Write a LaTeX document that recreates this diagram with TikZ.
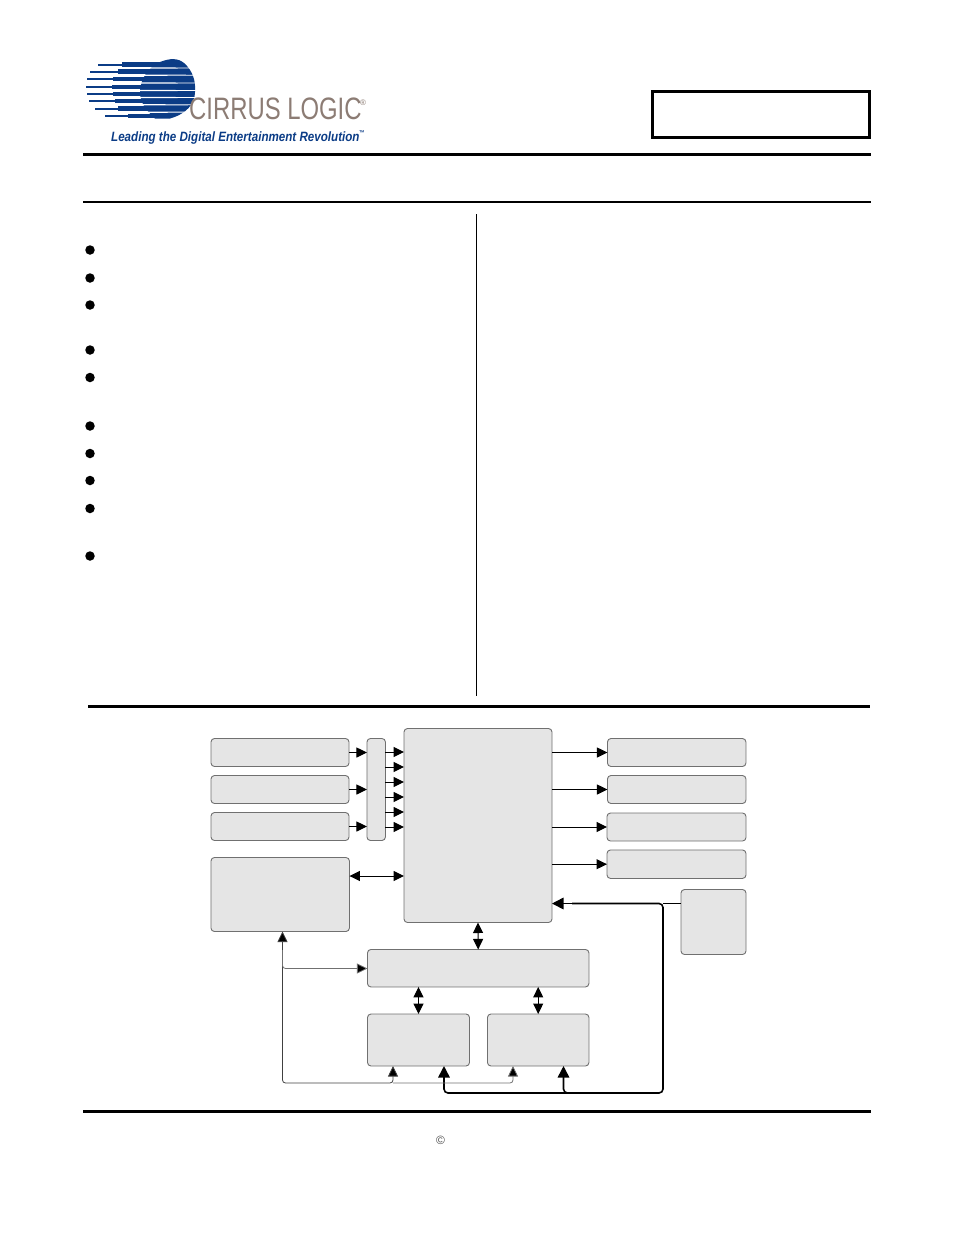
\documentclass[tikz,border=0pt]{standalone}
\usepackage{graphicx}
\usepackage{fontspec}
\setmainfont{Liberation Sans}
\usetikzlibrary{arrows.meta}
\definecolor{boxfill}{HTML}{E5E5E5}
\definecolor{boxline}{HTML}{707070}
\definecolor{logoblue}{HTML}{0B3C86}
\definecolor{logobrown}{HTML}{8C7C74}
\tikzset{
  box/.style={draw=boxline,fill=boxfill,rounded corners=3.5pt,line width=.9pt,inner sep=0pt,outer sep=0pt},
  rulethick/.style={line width=3pt},
  arr/.style={line width=1pt,-{Triangle[length=10.5pt,width=10pt]}},
  dbl/.style={line width=1pt,{Triangle[length=10.5pt,width=10pt]}-{Triangle[length=10.5pt,width=10pt]}},
  thin arr/.style={line width=.8pt,draw=boxline,rounded corners=3pt,-{Triangle[length=10.5pt,width=10pt,fill=black]}},
  thin dbl/.style={line width=.8pt,draw=black!75,rounded corners=3pt,{Triangle[length=10.5pt,width=10pt,fill=black]}-{Triangle[length=10.5pt,width=10pt,fill=black]}},
  bus/.style={line width=1.6pt,rounded corners=4pt,-{Triangle[length=11.5pt,width=11.5pt]}},
  bullet/.style={circle,fill=black,minimum size=9.5pt,inner sep=0pt},
}
\begin{document}
\begin{tikzpicture}[x=1pt,y=-1pt]
\useasboundingbox (0,0) rectangle (954,1235);
% logo
\begin{scope}[logoblue]
  \fill (140,92) .. controls (140,78) and (150,66) .. (160,62) .. controls (170,58) and (178,58) .. (184,63) .. controls (192,70) and (196,80) .. (195,92) .. controls (195,104) and (186,114) .. (170,118.5) -- (155,118.5) .. controls (148,112) and (140,104) .. (140,92) -- cycle;
  \foreach \yy/\xa/\xb/\xc in {64.5/98/122/160, 71.5/90/118/152, 79/87/113/145, 87/86/112/142, 94/87/113/142, 101/89/115/145, 108.5/95/118/152, 116/105/128/160}{
    \fill (\xa,\yy-1) rectangle (\xb,\yy+1);
    \fill (\xb,\yy-2.4) rectangle (\xc,\yy+2.4);
  }
  \foreach \yy in {68,75.2,83,90.5,97.5,104.8,112.2}{
    \fill[white] (136,\yy-.7) -- (197,\yy-.4) -- (197,\yy+.4) -- (136,\yy+.7) -- cycle;
  }
\end{scope}
\node[anchor=base west,inner sep=0pt,text=logobrown] (brand) at (189,119)
  {\scalebox{.77}[1]{\fontsize{31}{31}\selectfont CIRRUS LOGIC}};
\node[anchor=base west,inner sep=0pt,text=logobrown] (reg) at (360,105)
  {\fontsize{8}{8}\selectfont ®};
\node[anchor=base west,inner sep=0pt,text=logoblue] (tag) at (111,141)
  {\scalebox{.86}[1]{\fontsize{13.5}{13.5}\selectfont\bfseries\itshape Leading the Digital Entertainment Revolution}};
\node[anchor=base west,inner sep=0pt,text=logoblue] (tm) at (359,135)
  {\scalebox{.8}[1]{\fontsize{7}{7}\selectfont\bfseries ™}};
% header and rules
\node[draw=black,line width=3pt,minimum width=217pt,minimum height=46pt,inner sep=0pt] (title) at (761,114.5) {};
\coordinate (ra) at (83,154.5); \coordinate (rb) at (871,154.5);
\draw[rulethick] (ra) -- (rb);
\coordinate (rc) at (83,202); \coordinate (rd) at (871,202);
\draw[line width=2pt] (rc) -- (rd);
\coordinate (re) at (476.5,214); \coordinate (rf) at (476.5,695.5);
\draw[line width=1pt] (re) -- (rf);
\coordinate (rg) at (88,706.5); \coordinate (rh) at (870,706.5);
\draw[rulethick] (rg) -- (rh);
\coordinate (ri) at (83,1111); \coordinate (rj) at (871,1111);
\draw[rulethick] (ri) -- (rj);
\node[text=black!70,inner sep=0pt] (copy) at (440.5,1140) {\fontsize{12}{12}\selectfont ©};
% bullets
\foreach \n/\yy in {1/250,2/278,3/305,4/350,5/377.5,6/426,7/453.5,8/480.5,9/508.5,10/556}{
  \node[bullet] (b\n) at (90,\yy) {};
}
% boxes
\node[box,minimum width=138pt,minimum height=28pt] (in1) at (280,752.5) {};
\node[box,minimum width=138pt,minimum height=28pt] (in2) at (280,789.5) {};
\node[box,minimum width=138pt,minimum height=28pt] (in3) at (280,826.5) {};
\node[box,minimum width=18.5pt,minimum height=102pt] (mux) at (376.2,789.5) {};
\node[box,minimum width=148pt,minimum height=194pt] (dsp) at (478,825.5) {};
\node[box,minimum width=138.5pt,minimum height=74pt] (mem) at (280.2,894.5) {};
\node[box,minimum width=221.5pt,minimum height=37.5pt] (ctrl) at (478.2,968.2) {};
\node[box,minimum width=102pt,minimum height=52pt] (left) at (418.5,1040) {};
\node[box,minimum width=101.5pt,minimum height=52pt] (right) at (538.2,1040) {};
\node[box,minimum width=138.5pt,minimum height=28pt] (o1) at (676.7,752.5) {};
\node[box,minimum width=138.5pt,minimum height=28pt] (o2) at (676.7,789.5) {};
\node[box,minimum width=139pt,minimum height=28pt] (o3) at (676.5,827) {};
\node[box,minimum width=139pt,minimum height=28.5pt] (o4) at (676.5,864.2) {};
\node[box,minimum width=65pt,minimum height=65pt] (clk) at (713.5,922) {};
% input arrows
\foreach \a in {in1,in2,in3}{
  \draw[arr] (\a.east) -- (mux.west |- \a.east);
}
\foreach \n/\yy in {1/752,2/767,3/782,4/797,5/812,6/827}{
  \coordinate (m\n) at (404,\yy);
  \draw[arr] (mux.east |- m\n) -- (dsp.west |- m\n);
}
\coordinate (memy) at (404,876);
\draw[dbl] (mem.east |- memy) -- (dsp.west |- memy);
% output arrows
\foreach \a in {o1,o2,o3,o4}{
  \draw[arr] (dsp.east |- \a.west) -- (\a.west);
}
% vertical double arrows
\draw[dbl] (dsp.south) -- (ctrl.north);
\draw[dbl] (ctrl.south -| left.north) -- (left.north);
\draw[dbl] (ctrl.south -| right.north) -- (right.north);
% clock lines
\coordinate (clky) at (681,903.5);
\coordinate (busr) at (663,903.5);
\coordinate (busb) at (663,1093);
\coordinate (lx) at (444,1066);
\coordinate (rx) at (563.5,1066);
\coordinate (busj) at (580,1093);
\draw[line width=1pt] (clk.west |- clky) -- (busr);
\draw[bus] (busj) -- (rx |- busb) -- (rx);
\draw[bus] (dsp.east |- clky) ++(20,0) -- (dsp.east |- clky);
\draw[bus] (dsp.east |- clky) ++(20,0) -- (busr) -- (busb) -- (lx |- busb) -- (lx);
% thin control lines
\coordinate (tl) at (282.5,1083);
\coordinate (ta) at (393,1066);
\coordinate (tb) at (513,1066);
\coordinate (tm) at (282.5,968.5);
\coordinate (tj) at (282.5,950);
\draw[thin arr] (ta |- tl) -- (tb |- tl) -- (tb);
\draw[thin dbl] (tl |- mem.south) -- (tl) -- (ta |- tl) -- (ta);
\draw[thin arr] (tj) -- (tm) -- (ctrl.west |- tm);
\end{tikzpicture}
\end{document}
